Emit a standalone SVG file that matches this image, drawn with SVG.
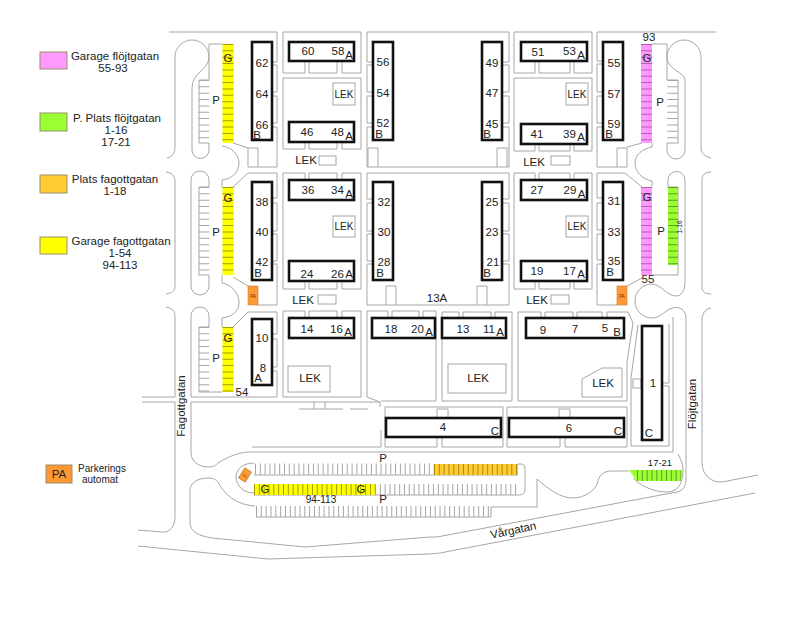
<svg xmlns="http://www.w3.org/2000/svg" width="800" height="633" viewBox="0 0 800 633">
<style>
text{font-family:"Liberation Sans",Arial,sans-serif;font-size:11.5px;fill:#222;text-anchor:middle}
.r{fill:none;stroke:#a6a6a6;stroke-width:1}
.w{fill:#fff;stroke:#a6a6a6;stroke-width:1}
.b{fill:#fff;stroke:#111;stroke-width:2.6}
.h{fill:none;stroke:#a6a6a6}
.hv{stroke-width:10.5;stroke-dasharray:1 5.35}
.hh{stroke-width:11;stroke-dasharray:1 3.83}
.lg{stroke:#9a8f6a;stroke-width:1}
.s{font-size:10px}
.tiny{font-size:4.5px;fill:#663300}
</style>
<rect width="800" height="633" fill="#fff"/>
<g id="roads" class="r">
<path d="M169,32H277V62H272M272,65H277V92H272M272,96H277V123H272M272,127H277V167H248V148L233,143M248,148H258V167"/>
<path d="M233,187L248,173H277V198H272M272,203H277V231H272M272,234H277V261H272M272,264H277V305H258M233,277L248,286"/>
<path d="M233,327L248,312H277V334H272M272,339H277V367H272M272,371H277V397H191"/>
<path d="M167,158C173,157 175,152 175,146V57A17,17 0 0 1 209,57C209,70 192,72 192,88V150A8.5,8.5 0 0 0 209,150V143H199V80H209V44H222"/>
<path d="M222,146C232,147 239,155 239,163C239,172 232,179 222,180V187"/>
<path d="M166,172C172,173 175,176 175,181V286C175,291 172,293 166,294"/>
<path d="M209,187V180A9,9 0 0 0 191,180V286A9,9 0 0 0 209,286V275H199V187H209"/>
<path d="M222,275V283C232,285 239,293 239,303C239,311 232,317 222,318V327"/>
<path d="M166,307C172,308 175,311 175,316V397H142"/>
<path d="M209,327V316A9,9 0 0 0 191,316V397"/>
<path d="M199,327H209M199,327V392H222"/>
<path d="M142,402H175V517C175,526 170,533 162,532L138,530"/>
<path d="M380,402H191V453C191,462 200,467 208,467C214,467 216,465 218,463C226,458 238,452 250,452H673V317"/>
<path d="M367,397L380,402V407M252,447H381V430"/>
<path d="M299,409H343M350,409H368M314,402V409M325,402V409"/>
<path d="M305,61V73H283V32H361V73H342V61M309,61V73H337V61"/>
<path d="M305,142V149H283V78H361V149H342V142M309,142V149H337V142"/>
<path d="M305,180V173H283V289H305V281M309,180V173H337V180M342,180V173H361V289H342V281M309,281V289H337V281"/>
<path d="M305,318V311H283V397H361V311H342V318M309,318V311H337V318"/>
<path d="M373,62H367V32H509V62H502M502,65H509V92H502M502,96H509V123H502M502,127H509V167H367V127H373M373,123H367V96H373M373,92H367V65H373"/>
<path d="M368,167V148H378V167M497,167V148H507V167"/>
<path d="M373,199H367V173H509V199H502M502,203H509V231H502M502,234H509V261H502M502,264H509V305H367V264H373M373,261H367V234H373M373,231H367V203H373"/>
<path d="M386,305V286H396V305M477,305V286H487V305"/>
<path d="M388,318V311H367V397M392,318V311H419V318M423,318V311H436V401H381"/>
<path d="M459,318V312H442V401H512V312H495V318M463,318V312H491V318"/>
<path d="M541,318V312H518V401H627V362L633,323L628,312H607V318M545,318V312H573V318M577,318V312H602V318"/>
<path d="M535,61V73H514V32H592V73H574V61M539,61V73H570V61"/>
<path d="M535,144V151H514V78H592V151H574V144M539,144V151H570V144"/>
<path d="M535,180V173H514V289H535V281M539,180V173H570V180M574,180V173H592V289H574V281M539,281V289H570V281"/>
<path d="M603,61H597V32H716M603,64H597V92H603M603,96H597V123H603M603,127H597V167H627V148H617V167M627,147L642,143"/>
<path d="M642,187L625,173H597V198H603M603,203H597V230H603M603,234H597V260H603M603,264H597V305H617M627,286L642,278"/>
<path d="M652,44H667V80H678V143H667V150A9,9 0 0 0 685,150V80C685,72 667,70 667,57A17,17 0 0 1 701,57V147C701,153 705,157 711,158"/>
<path d="M652,143V147C642,149 635,155 635,163C635,172 642,179 652,181V187"/>
<path d="M652,275H678V187H668V180A8.5,8.5 0 0 1 685,180V283C685,291 681,296 676,296C667,296 662,285 652,284C642,284 635,292 635,301C635,311 643,318 652,318C660,318 665,311 670,309C678,305 686,309 686,318V478C686,486 683,491 677,492L437,537L430,537L305,547L212,538C200,536 190,532 190,523V490C190,483 198,478 208,478C214,478 216,480 218,482C224,494 236,505 255,506"/>
<path d="M711,172C705,172 702,175 702,180V288C702,291 705,294 711,294"/>
<path d="M711,308C705,309 702,314 702,320V463C702,475 712,483 722,482L758,475"/>
<path d="M755,493L440,553L430,554L268,559L138,546"/>
<path d="M669,324V383H662M662,386H669V446H631V378L638,325"/>
<path d="M385,407H503V447H442V437M437,437V447H385V407M507,407H627V447H565V437M560,437V447H507V407"/>
<path d="M254,463C242,463 236,470 236,477C236,486 244,493 254,493"/>
<path d="M254,475H518M518,464H521C524,464 525,466 525,469V490C525,493 523,495 518,495H254"/>
<path d="M256,517H491V507H537V479C550,490 560,498 573,498C585,498 595,490 597,484C599,476 602,471 612,471H629"/>
<path d="M633,478C645,490 660,492 667,492C680,492 683,480 683,470C683,463 680,458 678,454"/>
</g>
<g id="hatches" class="h">
<line class="h hv" x1="204" y1="80" x2="204" y2="143"/>
<line class="h hv" x1="204" y1="187" x2="204" y2="275"/>
<line class="h hv" x1="204" y1="327" x2="204" y2="392"/>
<line class="h hv" x1="672.5" y1="80" x2="672.5" y2="143"/>
<line class="h hh" x1="255" y1="469" x2="434" y2="469"/>
<line class="h hh" x1="375" y1="489.5" x2="518" y2="489.5"/>
<line class="h hh" x1="256" y1="511.5" x2="491" y2="511.5"/>
</g>
<g id="parking-fields">
<rect x="222.5" y="44" width="11" height="99" fill="#ff0"/>
<rect x="222.5" y="187" width="11" height="88" fill="#ff0"/>
<rect x="222.5" y="327" width="11" height="65" fill="#ff0"/>
<rect x="641" y="44" width="11" height="99" fill="#f9f"/>
<rect x="641" y="187" width="11" height="88" fill="#f9f"/>
<rect x="668" y="187" width="10" height="78" fill="#9f3"/>
<rect x="434" y="464" width="84" height="11" fill="#fc3"/>
<rect x="254" y="484" width="121" height="11" fill="#ff0"/>
<polygon points="629,470 683,470 681,481 637,481" fill="#9f3"/>
<g fill="none" stroke-dasharray="1 5.35" stroke-width="11">
<line x1="228" y1="44" x2="228" y2="143" stroke="#a0a000"/>
<line x1="228" y1="187" x2="228" y2="275" stroke="#a0a000"/>
<line x1="228" y1="327" x2="228" y2="392" stroke="#a0a000"/>
<line x1="646.5" y1="44" x2="646.5" y2="143" stroke="#b060b0"/>
<line x1="646.5" y1="187" x2="646.5" y2="275" stroke="#b060b0"/>
<line x1="673" y1="187" x2="673" y2="265" stroke="#5f9f20" stroke-width="10"/>
</g>
<g fill="none" stroke-dasharray="1 3.83" stroke-width="11">
<line x1="434" y1="469.5" x2="518" y2="469.5" stroke="#b08a10"/>
<line x1="254" y1="489.5" x2="375" y2="489.5" stroke="#a0a000"/>
<line x1="637" y1="475.5" x2="681" y2="475.5" stroke="#5f9f20"/>
</g>
<rect x="248" y="286" width="10" height="19" fill="#f93" stroke="#c08040" stroke-width=".6"/>
<rect x="617" y="286" width="10" height="19" fill="#f93" stroke="#c08040" stroke-width=".6"/>
<g transform="rotate(32 245 475)"><rect x="241" y="469" width="8" height="12" fill="#f93" stroke="#b07030" stroke-width=".6"/></g>
<text class="tiny" x="253" y="297.5">PA</text>
<text class="tiny" x="622" y="297.5">PA</text>
<text class="tiny" x="245" y="477" transform="rotate(32 245 475)" style="font-size:3.5px">PA</text>
</g>
<g id="lek-areas" class="w">
<rect x="333" y="83" width="22" height="22"/>
<rect x="333" y="216" width="22" height="21"/>
<rect x="566" y="83" width="22" height="22"/>
<rect x="566" y="216" width="22" height="21"/>
<rect x="319" y="156" width="17" height="9"/>
<rect x="318" y="295" width="18" height="9"/>
<rect x="551" y="156" width="19" height="9"/>
<rect x="551" y="295" width="18" height="9"/>
<rect x="288" y="366" width="42" height="26"/>
<rect x="448" y="364" width="58" height="29"/>
<polygon points="582,379 602,368 622,368 622,397 582,397"/>
<rect x="633" y="379" width="8" height="9"/>
<path d="M437,417V409H448V417M559,417V409H570V417"/>
</g>
<g id="buildings" class="b">
<rect id="b62" x="252" y="42" width="20" height="98"/>
<rect id="b60" x="289" y="42" width="65" height="19"/>
<rect id="b46" x="289" y="122" width="65" height="20"/>
<rect id="b38" x="252" y="182" width="20" height="98"/>
<rect id="b36" x="289" y="180" width="65" height="20"/>
<rect id="b24" x="289" y="261" width="65" height="20"/>
<rect id="b10" x="252" y="319" width="20" height="66"/>
<rect id="b14" x="289" y="318" width="65" height="20"/>
<rect id="b56" x="373" y="42" width="20" height="98"/>
<rect id="b49" x="482" y="42" width="20" height="98"/>
<rect id="b32" x="373" y="182" width="20" height="98"/>
<rect id="b25" x="482" y="182" width="20" height="98"/>
<rect id="b51" x="521" y="42" width="66" height="19"/>
<rect id="b41" x="521" y="124" width="66" height="20"/>
<rect id="b27" x="521" y="180" width="66" height="20"/>
<rect id="b19" x="521" y="261" width="66" height="20"/>
<rect id="b18" x="372" y="318" width="63" height="20"/>
<rect id="b13" x="442" y="318" width="64" height="20"/>
<rect id="b9" x="526" y="318" width="98" height="20"/>
<rect id="b55" x="603" y="42" width="20" height="98"/>
<rect id="b31" x="603" y="182" width="20" height="98"/>
<rect id="b1" x="642" y="326" width="20" height="114"/>
<rect id="b4" x="386" y="418" width="115" height="19"/>
<rect id="b6" x="509" y="418" width="115" height="19"/>
</g>
<g id="labels">
<text x="308" y="55">60</text><text x="338" y="55">58</text><text x="349" y="59">A</text>
<text x="262" y="67">62</text><text x="262" y="98">64</text><text x="262" y="129">66</text><text x="257" y="138.5">B</text>
<text x="307" y="136">46</text><text x="337.5" y="136">48</text><text x="349" y="140">A</text>
<text x="308" y="194">36</text><text x="337.5" y="194">34</text><text x="349" y="198">A</text>
<text x="262" y="206">38</text><text x="262" y="236">40</text><text x="262" y="266">42</text><text x="258" y="277">B</text>
<text x="307" y="278">24</text><text x="337.5" y="278">26</text><text x="349" y="278">A</text>
<text x="307" y="333">14</text><text x="336.5" y="333">16</text><text x="348" y="336">A</text>
<text x="262" y="342">10</text><text x="263" y="372">8</text><text x="258" y="382">A</text>
<text x="383" y="66">56</text><text x="383" y="97">54</text><text x="383" y="127">52</text><text x="379" y="138">B</text>
<text x="492" y="67">49</text><text x="492" y="97">47</text><text x="492" y="128">45</text><text x="487" y="138">B</text>
<text x="538" y="56">51</text><text x="569.5" y="55">53</text><text x="581" y="59">A</text>
<text x="537" y="138">41</text><text x="569.5" y="138">39</text><text x="581" y="141">A</text>
<text x="537" y="194">27</text><text x="570" y="194">29</text><text x="581.5" y="198">A</text>
<text x="537" y="275">19</text><text x="569.5" y="275">17</text><text x="581" y="278">A</text>
<text x="384" y="206">32</text><text x="384" y="236">30</text><text x="384" y="266">28</text><text x="380" y="277">B</text>
<text x="492" y="206">25</text><text x="492" y="236">23</text><text x="493" y="266">21</text><text x="487" y="277">B</text>
<text x="391" y="333">18</text><text x="417.5" y="333">20</text><text x="429" y="336">A</text>
<text x="463" y="333">13</text><text x="489" y="333">11</text><text x="500" y="336">A</text>
<text x="543" y="334">9</text><text x="575" y="333">7</text><text x="605" y="332">5</text><text x="617" y="336">B</text>
<text x="614" y="67">55</text><text x="614" y="98">57</text><text x="614" y="128">59</text><text x="609" y="138">B</text>
<text x="614" y="205">31</text><text x="614" y="236">33</text><text x="614" y="265">35</text><text x="610" y="276">B</text>
<text x="653" y="387">1</text><text x="649" y="437">C</text>
<text x="443" y="431">4</text><text x="495" y="435">C</text>
<text x="569" y="432">6</text><text x="618" y="435">C</text>
<text x="437" y="302">13A</text>
<text x="228" y="62">G</text><text x="228" y="202">G</text><text x="228" y="342">G</text>
<text x="647" y="62">G</text><text x="647" y="201">G</text>
<text x="265" y="493">G</text><text x="361" y="493">G</text>
<text x="216" y="104">P</text><text x="216" y="236">P</text><text x="216" y="362">P</text>
<text x="660" y="106">P</text><text x="661" y="235">P</text>
<text x="383" y="462">P</text><text x="383" y="503">P</text>
<text x="242" y="396">54</text><text x="649" y="41">93</text><text x="648" y="283">55</text>
<text class="s" x="321" y="503">94-113</text>
<text class="s" x="660" y="466" style="font-size:9.5px">17-21</text>
<text x="682" y="227" transform="rotate(-90 682 227)" style="font-size:6.5px">1-16</text>
<text class="s" x="344" y="98">LEK</text><text class="s" x="344" y="230">LEK</text>
<text class="s" x="577" y="98">LEK</text><text class="s" x="577" y="230">LEK</text>
<text x="306" y="164">LEK</text><text x="303" y="304">LEK</text>
<text x="534" y="166">LEK</text><text x="537" y="304">LEK</text>
<text x="310" y="382">LEK</text><text x="478" y="382">LEK</text><text x="603" y="387">LEK</text>
<text x="0" y="0" transform="translate(185 406) rotate(-90)">Fagottgatan</text>
<text x="0" y="0" transform="translate(696 404) rotate(-90)">Flöjtgatan</text>
<text x="0" y="0" transform="translate(514 534) rotate(-12)">Vårgatan</text>
</g>
<g id="legend">
<rect class="lg" x="40" y="52" width="27" height="17" fill="#f9f"/>
<text x="115" y="60">Garage flöjtgatan</text><text x="113" y="72">55-93</text>
<rect class="lg" x="40" y="113" width="27" height="18" fill="#9f3"/>
<text x="117" y="122">P. Plats flöjtgatan</text><text x="116" y="134">1-16</text><text x="116" y="146">17-21</text>
<rect class="lg" x="40" y="175" width="27" height="18" fill="#fc3"/>
<text x="115" y="183">Plats fagottgatan</text><text x="115" y="195">1-18</text>
<rect class="lg" x="40" y="237" width="27" height="17" fill="#ff0"/>
<text x="121" y="245">Garage fagottgatan</text><text x="120" y="257">1-54</text><text x="120" y="269">94-113</text>
<rect class="lg" x="46" y="465" width="26" height="18" fill="#f93"/>
<text x="59" y="478">PA</text>
<text class="s" x="102" y="472">Parkerings</text><text class="s" x="100" y="483">automat</text>
</g>
</svg>
